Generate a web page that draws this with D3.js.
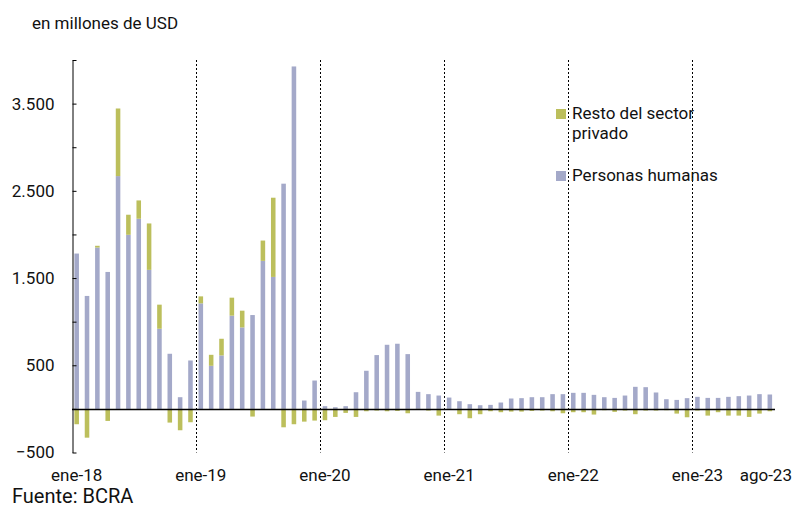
<!DOCTYPE html>
<html>
<head>
<meta charset="utf-8">
<script src="https://cdn.jsdelivr.net/npm/d3@7"></script>
<style>
  html, body { margin: 0; padding: 0; background: #fff; }
  svg { display: block; font-family: Roboto, "Noto Sans", sans-serif; }
</style>
</head>
<body>
<svg id="chart" width="794" height="508"></svg>
<script>
// Meses ene-18 .. ago-23
const mesesCortos = ["ene","feb","mar","abr","may","jun","jul","ago","sep","oct","nov","dic"];
const meses = [];
for (let a = 18; a <= 23; a++) {
  for (let m = 0; m < 12; m++) {
    if (a === 23 && m > 7) break;
    meses.push(`${mesesCortos[m]}-${a}`);
  }
}

// Personas humanas (millones de USD)
const personas = [
  1781, 1295, 1850, 1570, 2669, 1996, 2180, 1594, 919, 632, 134, 555,
  1210, 494, 613, 1069, 934, 1076, 1697, 1513, 2582, 3926, 96, 325,
  31, 19, 31, 191, 437, 617, 735, 747, 628, 195, 169, 153,
  130, 88, 54, 42, 46, 73, 119, 123, 134, 134, 169, 169,
  184, 184, 161, 134, 126, 153, 253, 249, 188, 111, 103, 123,
  138, 126, 126, 138, 146, 153, 169, 165
];

// Resto del sector privado
const resto = [
  -176, -330, 20, -138, 775, 230, 210, 532, 276, -157, -245, -153,
  80, 126, 191, 206, 192, -88, 233, 908, -211, -176, -146, -134,
  -130, -92, -46, -92, -27, -19, -27, -23, -50, -5, -19, -77,
  -5, -61, -107, -61, -27, -38, -31, -31, -23, -19, -27, -50,
  -38, -38, -65, -15, -34, -19, -61, -19, -19, -15, -54, -96,
  -19, -77, -38, -77, -77, -92, -54, -27
];

const etiquetasX = ["ene-18", "ene-19", "ene-20", "ene-21", "ene-22", "ene-23", "ago-23"];
const lineasAnio = ["ene-19", "ene-20", "ene-21", "ene-22", "ene-23"];
const yTicks = [-500, 0, 500, 1000, 1500, 2000, 2500, 3000, 3500, 4000];
const yEtiquetas = [-500, 500, 1500, 2500, 3500];

const series = [
  { key: "personas", label: "Personas humanas", color: "#a4a9c9" },
  { key: "resto", label: "Resto del sector privado", color: "#bcbf5c" }
];

const tabla = meses.map((m, i) => ({ mes: m, personas: personas[i], resto: resto[i] }));

const svg = d3.select("#chart");

const x = d3.scaleBand().domain(meses).range([71.5, 775]).paddingInner(0.56).paddingOuter(0.28);
const y = d3.scaleLinear().domain([-500, 4000]).range([452.5, 60]);

const es = d3.formatLocale({ decimal: ",", thousands: ".", grouping: [3], currency: ["$", ""] });
const fmt = es.format(",");

// lineas punteadas de cada enero
svg.append("g")
  .selectAll("line")
  .data(lineasAnio)
  .join("line")
  .attr("x1", d => Math.round(x(d) + x.bandwidth() / 2 - x.step() / 2) + 0.5)
  .attr("x2", d => Math.round(x(d) + x.bandwidth() / 2 - x.step() / 2) + 0.5)
  .attr("y1", y(4000))
  .attr("y2", y(-500))
  .attr("stroke", "#000")
  .attr("stroke-width", 1)
  .attr("stroke-dasharray", "2,2");

// barras apiladas
const stack = d3.stack().keys(series.map(s => s.key)).offset(d3.stackOffsetDiverging);
const capas = stack(tabla);

svg.append("g")
  .selectAll("g")
  .data(capas)
  .join("g")
  .attr("fill", (d, i) => series[i].color)
  .selectAll("rect")
  .data(d => d)
  .join("rect")
  .attr("x", d => x(d.data.mes))
  .attr("width", x.bandwidth())
  .attr("y", d => y(Math.max(d[0], d[1])))
  .attr("height", d => Math.abs(y(d[0]) - y(d[1])));

// eje Y
const ejeY = d3.axisLeft(y)
  .tickValues(yTicks)
  .tickSizeInner(-4)
  .tickSizeOuter(0)
  .tickPadding(18)
  .tickFormat(d => yEtiquetas.includes(d) ? fmt(d) : "");

const gy = svg.append("g")
  .attr("transform", "translate(72.5,0)")
  .call(ejeY);
gy.select(".domain").attr("stroke", "#000");
gy.selectAll(".tick line").attr("stroke", "#000");
gy.selectAll("text")
  .attr("font-size", 17)
  .attr("font-family", "Roboto, sans-serif")
  .attr("fill", "#111");

// linea de cero
svg.append("line")
  .attr("x1", 72)
  .attr("x2", 775)
  .attr("y1", Math.round(y(0)) + 0.5)
  .attr("y2", Math.round(y(0)) + 0.5)
  .attr("stroke", "#000")
  .attr("stroke-width", 1.3);

// etiquetas eje X
svg.append("g")
  .selectAll("text")
  .data(etiquetasX)
  .join("text")
  .attr("x", d => x(d) + x.bandwidth() / 2 - (d === "ago-23" ? 4 : 0))
  .attr("y", 481)
  .attr("text-anchor", "middle")
  .attr("font-size", 17)
  .attr("fill", "#111")
  .text(d => d);

// titulo
svg.append("text")
  .attr("x", 32)
  .attr("y", 29)
  .attr("font-size", 17)
  .attr("fill", "#111")
  .text("en millones de USD");

// leyenda
const leyenda = [
  { color: series[1].color, lineas: ["Resto del sector", "privado"], y: 119 },
  { color: series[0].color, lineas: ["Personas humanas"], y: 181 }
];
const lg = svg.append("g").selectAll("g").data(leyenda).join("g");
lg.append("rect")
  .attr("x", 556)
  .attr("y", d => d.y - 10)
  .attr("width", 10)
  .attr("height", 10)
  .attr("fill", d => d.color);
lg.append("text")
  .attr("x", 572)
  .attr("y", d => d.y)
  .attr("font-size", 17)
  .attr("fill", "#111")
  .selectAll("tspan")
  .data(d => d.lineas)
  .join("tspan")
  .attr("x", 572)
  .attr("dy", (d, i) => i === 0 ? 0 : 19.5)
  .text(d => d);

// fuente
svg.append("text")
  .attr("x", 12)
  .attr("y", 503)
  .attr("font-size", 20)
  .attr("fill", "#111")
  .text("Fuente: BCRA");
</script>
</body>
</html>
